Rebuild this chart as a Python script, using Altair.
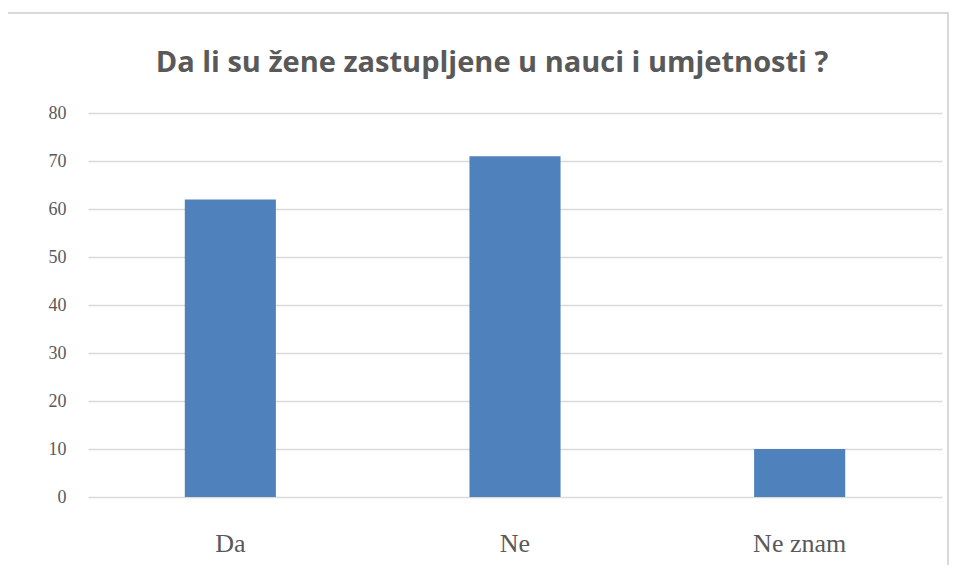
import altair as alt
import pandas as pd

categories = ["Da", "Ne", "Ne znam"]
values = [62, 71, 10]

df = pd.DataFrame({"odgovor": categories, "broj": values})

W, H = 854, 384

bars = alt.Chart(df).mark_bar(color="#4f81bd").encode(
    x=alt.X("odgovor:N", sort=categories,
            scale=alt.Scale(paddingInner=0.68, paddingOuter=0.34),
            axis=alt.Axis(title=None, labelAngle=0, labelFont="Liberation Serif",
                          labelFontSize=26, labelColor="#595959", labelPadding=33,
                          ticks=False, domain=False, grid=False)),
    y=alt.Y("broj:Q", scale=alt.Scale(domain=[0, 80]),
            axis=alt.Axis(title=None, values=list(range(0, 81, 10)),
                          labelFont="Liberation Serif", labelFontSize=18,
                          labelColor="#595959", labelPadding=22,
                          ticks=False, domain=False, grid=True,
                          gridColor="#d9d9d9", gridWidth=1.5)),
)

frame = alt.Chart(df).mark_rect(fill=None, stroke="#d9d9d9", strokeWidth=2, clip=False).encode(
    x=alt.value(-83), x2=alt.value(860), y=alt.value(-100), y2=alt.value(457)
)

chart = alt.layer(frame, bars).properties(
    width=W, height=H,
    title=alt.TitleParams("Da li su žene zastupljene u nauci i umjetnosti ?",
                          font="Open Sans", fontSize=29, fontWeight="bold",
                          color="#595959", anchor="middle", dx=-23, offset=-66),
    autosize=alt.AutoSizeParams(type="none"),
    padding={"left": 80, "top": 105, "right": 7, "bottom": 68},
).configure_view(stroke=None)

chart.save("out.html", embed_options={"renderer": "svg", "actions": False})
